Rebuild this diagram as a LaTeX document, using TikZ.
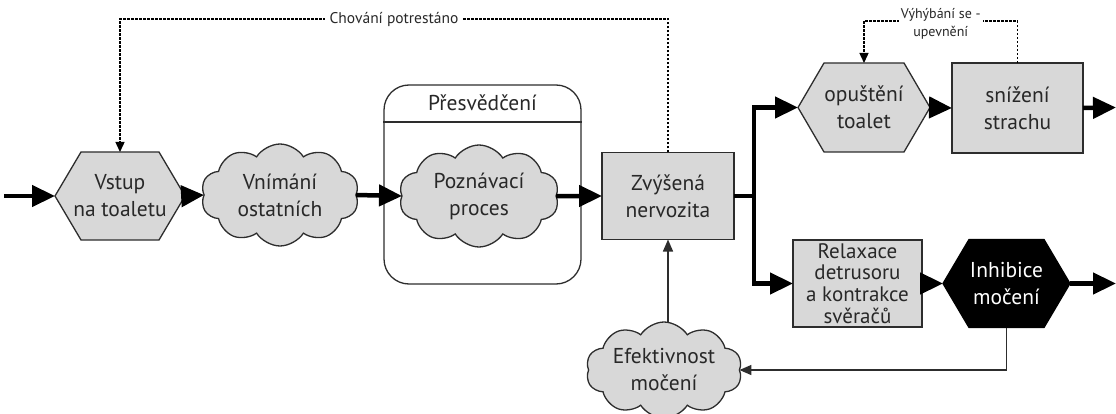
\documentclass[tikz,border=0pt]{standalone}
\usepackage{fontspec}
\setmainfont{PT Sans}
\usetikzlibrary{shapes.symbols,arrows.meta}
\definecolor{boxgray}{RGB}{216,216,216}
\definecolor{edgecol}{RGB}{45,45,45}
\definecolor{txtcol}{RGB}{40,40,40}
\newdimen\hxl \newdimen\hxr \newdimen\hyt \newdimen\hyb \newdimen\hym \newdimen\hcx
\def\hexchamfer{25pt}
\makeatletter
\pgfdeclareshape{hexbox}{%
  \inheritsavedanchors[from=rectangle]%
  \inheritanchorborder[from=rectangle]%
  \inheritanchor[from=rectangle]{center}%
  \inheritanchor[from=rectangle]{north}%
  \inheritanchor[from=rectangle]{south}%
  \inheritanchor[from=rectangle]{east}%
  \inheritanchor[from=rectangle]{west}%
  \inheritanchor[from=rectangle]{north east}%
  \inheritanchor[from=rectangle]{north west}%
  \inheritanchor[from=rectangle]{south east}%
  \inheritanchor[from=rectangle]{south west}%
  \backgroundpath{%
    \southwest \global\hxl=\pgf@x \global\hyb=\pgf@y
    \northeast \global\hxr=\pgf@x \global\hyt=\pgf@y
    \global\hym=\dimexpr(\hyt+\hyb)/2\relax
    \global\hcx=\hexchamfer\relax
    \pgfpathmoveto{\pgfqpoint{\hxl}{\hym}}%
    \pgfpathlineto{\pgfqpoint{\dimexpr\hxl+\hcx\relax}{\hyt}}%
    \pgfpathlineto{\pgfqpoint{\dimexpr\hxr-\hcx\relax}{\hyt}}%
    \pgfpathlineto{\pgfqpoint{\hxr}{\hym}}%
    \pgfpathlineto{\pgfqpoint{\dimexpr\hxr-\hcx\relax}{\hyb}}%
    \pgfpathlineto{\pgfqpoint{\dimexpr\hxl+\hcx\relax}{\hyb}}%
    \pgfpathclose
  }%
}
\makeatother
\begin{document}
\begin{tikzpicture}[x=1pt,y=-1pt,
  every node/.style={font=\fontsize{21.5}{27}\selectfont, align=center, text=txtcol},
  hex chamfer/.code={\def\hexchamfer{#1}},
  hexa/.style={hexbox, hex chamfer=26pt, outer sep=0pt,
    minimum width=130pt, minimum height=88pt, draw=edgecol, line width=1.3pt, fill=boxgray, inner sep=0pt},
  boxnode/.style={rectangle, draw=edgecol, line width=1.3pt, fill=boxgray, inner sep=0pt, outer sep=0pt,
    minimum width=131pt, minimum height=87pt},
  cloudnode/.style={cloud, cloud puffs=10, cloud puff arc=115, cloud ignores aspect, draw=edgecol,
    line width=1.3pt, fill=boxgray, inner sep=0pt, outer sep=0pt, minimum width=158pt, minimum height=102pt},
  container/.style={rectangle, rounded corners=25pt, draw=edgecol, line width=1.3pt, fill=white,
    minimum width=197pt, minimum height=199pt},
  thickline/.style={line width=4.5pt, draw=black},
  thickarrow/.style={thickline, -{Triangle[length=23pt,width=21pt]}},
  thinarrow/.style={line width=1.4pt, draw=edgecol, -{Triangle[length=12pt,width=10pt]}},
  dotarrow/.style={line width=1.4pt, draw=black, dash pattern=on 2.4pt off 1.6pt, -{Triangle[length=10pt,width=9pt]}},
  lbl/.style={fill=white, inner sep=5pt, font=\fontsize{15.5}{18}\selectfont},
]
\useasboundingbox (0,0) rectangle (1116,414);

% container
\node[container] (pres) at (482.5,184.5) {};
\node (prestitle) at (482.5,103) {Přesvědčení};
\draw[line width=1.3pt, draw=edgecol] (pres.west |- 0,122) -- (pres.east |- 0,122);

% nodes
\node[hexa] (vstup) at (120,196) {Vstup\\na toaletu};
\node[cloudnode] (vnim) at (280,195) {Vnímání\\ostatních};
\node[cloudnode, minimum width=160pt] (pozn) at (479,196) {Poznávací\\proces};
\node[boxnode, minimum width=132pt] (zv) at (668,196) {Zvýšená\\nervozita};
\node[hexa, minimum width=132pt, minimum height=89pt] (opu) at (864,107.5) {opuštění\\toalet};
\node[boxnode, minimum height=90pt] (sni) at (1017.5,108) {snížení\\strachu};
\node[boxnode, minimum width=129pt, font=\fontsize{21}{21.7}\selectfont] (rel) at (857.5,283.5) {Relaxace\\detrusoru\\a kontrakce\\svěračů};
\node[hexa, fill=black, draw=black, text=white, minimum width=127pt] (inh) at (1006.5,283.5) {Inhibice\\močení};
\node[cloudnode, minimum width=156pt, minimum height=96pt] (eff) at (664,370) {Efektivnost\\močení};

% coordinates
\coordinate (start) at (4,196);
\coordinate (br) at (754,196);
\coordinate (outtop) at (1116,107.5);
\coordinate (outbot) at (1116,283.5);

% main flow
\draw[thickarrow] (start) -- (vstup.west);
\draw[thickarrow] (vstup.east) -- (vnim.west);
\draw[thickarrow] (vnim.east) -- (pozn.west);
\draw[thickarrow] (pozn.east) -- (zv.west);
\draw[thickline] (zv.east) -- (br);
\draw[thickarrow] (br) |- (opu.west);
\draw[thickarrow] (br) |- (rel.west);
\draw[thickarrow] (opu.east) -- (sni.west);
\draw[thickarrow] (sni.east) -- (outtop);
\draw[thickarrow] (rel.east) -- (inh.west);
\draw[thickarrow] (inh.east) -- (outbot);

% feedback
\draw[thinarrow] (inh.south) |- (eff.east);
\draw[thinarrow] (eff.north -| zv.south) -- (zv.south);

% dotted loops
\draw[dotarrow] (zv.north) -- (zv.north |- 0,19) -- node[lbl]{Chování potrestáno} (vstup.north |- 0,19) -- (vstup.north);
\draw[dotarrow] (sni.north) -- (sni.north |- 0,21) -- node[lbl, font=\fontsize{14}{18}\selectfont, yshift=-3pt, inner sep=2pt]{Výhýbání se -\\upevnění} (opu.north |- 0,21) -- (opu.north);
\end{tikzpicture}
\end{document}
